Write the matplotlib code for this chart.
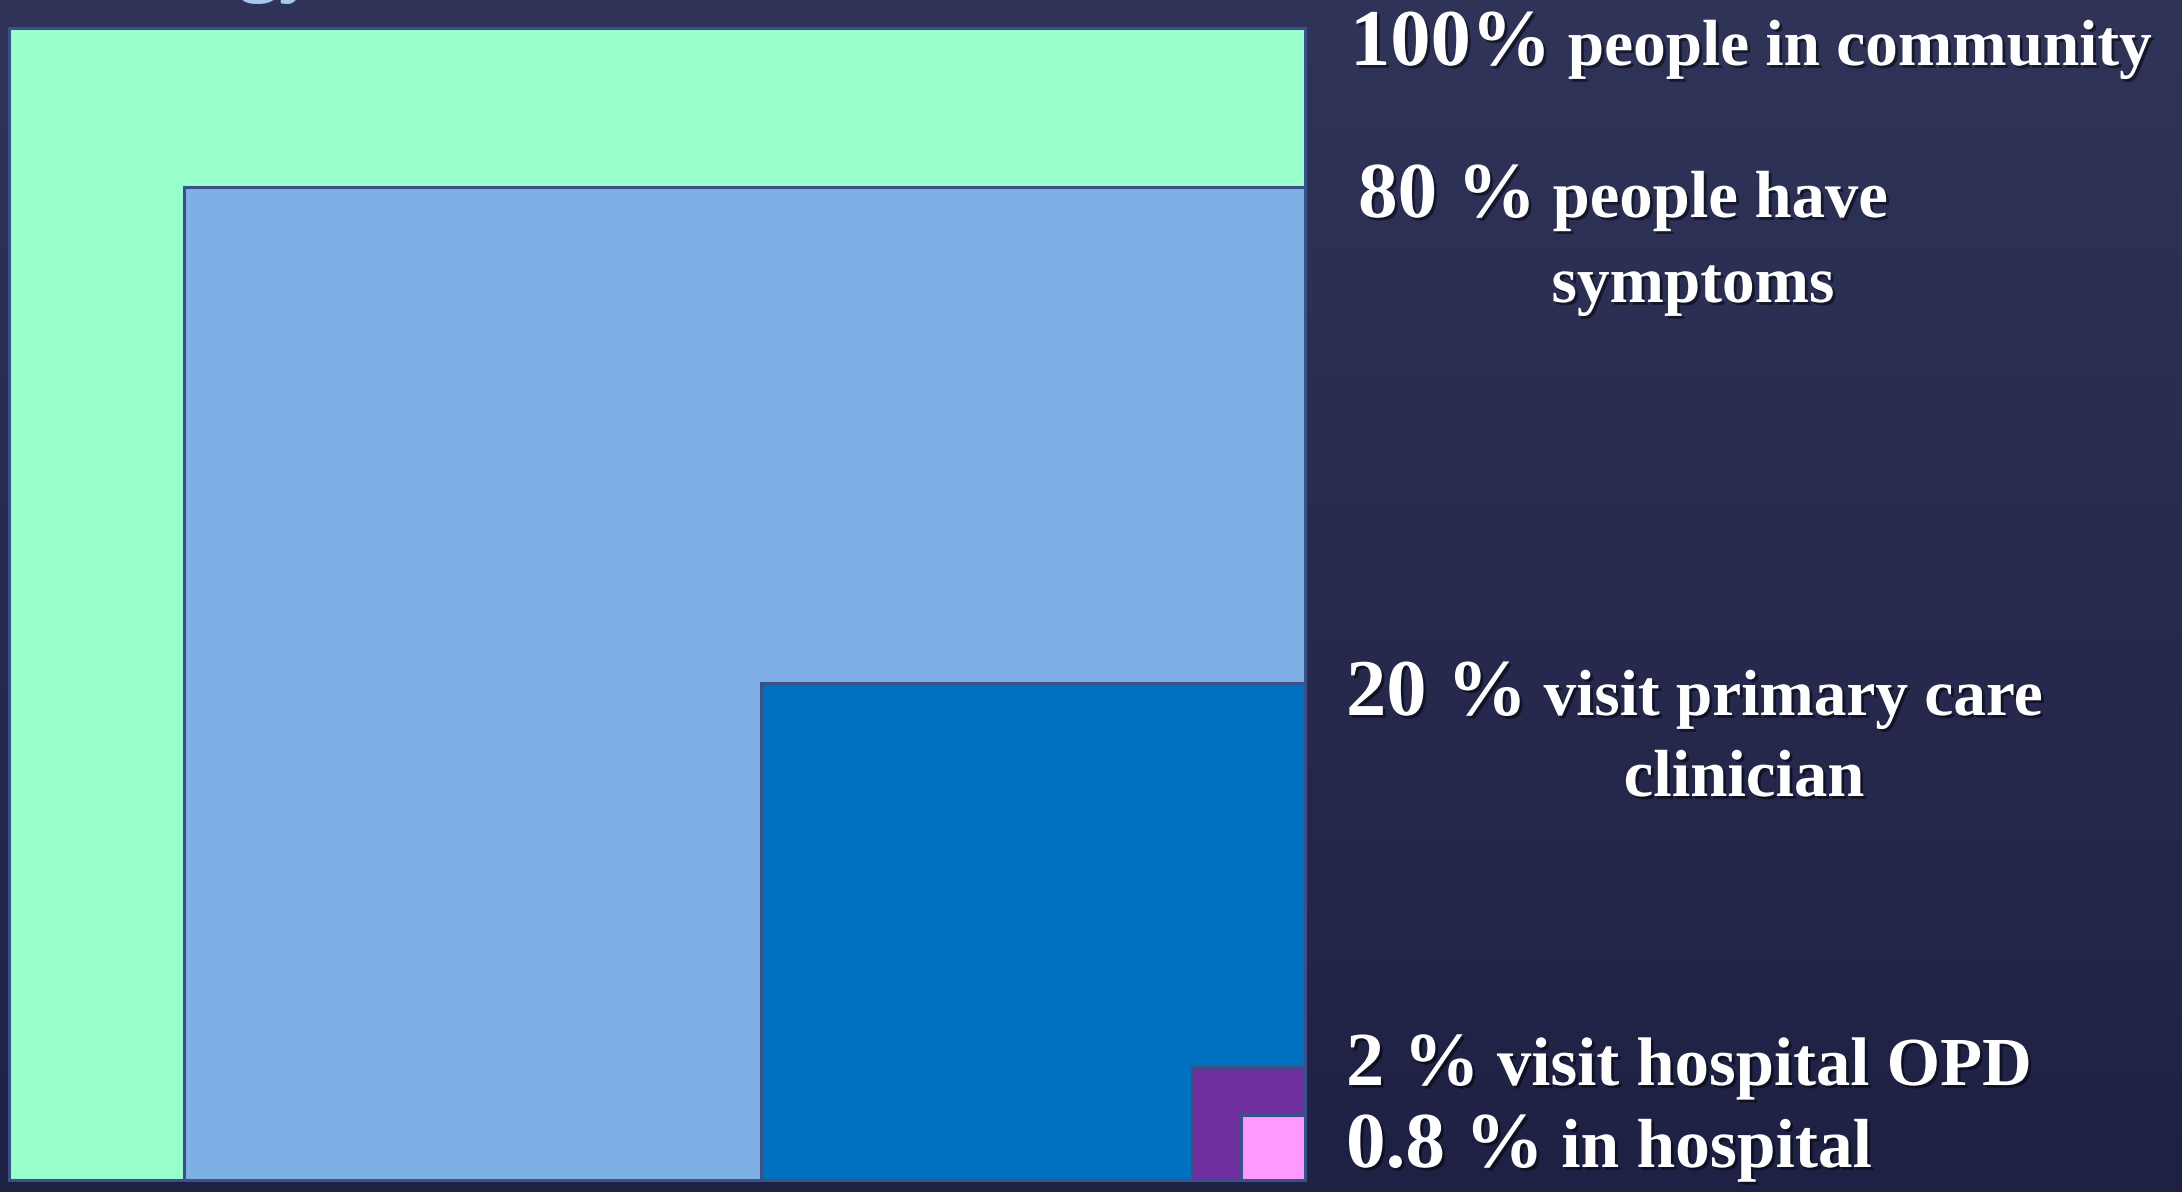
import numpy as np
import matplotlib.pyplot as plt
import matplotlib.patheffects as pe
from matplotlib.colors import LinearSegmentedColormap

# nested boxes, sizes as % of the outer box
pct = [100, 80, 20, 2, 0.8]
box_w = [100, 86.5, 42.0, 8.7, 4.9]
box_h = [100, 86.2, 43.1, 9.8, 5.6]
colors = ["#99ffcc", "#7fb0e5", "#0070c0", "#7030a0", "#ff99ff"]

# labels: big number part + smaller text part, optional 2nd line
big_parts = ["100%", "80 %", "20 %", "2 %", "0.8 %"]
small_parts = [" people in community", " people have", " visit primary care",
               " visit hospital OPD", " in hospital"]
second_lines = ["", "symptoms", "clinician", "", ""]

W, H = 2182, 1192
fig = plt.figure(figsize=(W / 100, H / 100), dpi=100)

# background gradient
bg = fig.add_axes([0, 0, 1, 1])
cmap = LinearSegmentedColormap.from_list("bg", ["#1f2144", "#303459"])
grad = np.linspace(0, 1, 256).reshape(-1, 1)
bg.imshow(grad, cmap=cmap, aspect="auto", origin="lower", extent=[0, 1, 0, 1])
bg.axis("off")

# boxes axes covers the outer box exactly
left, top, right, bottom = 9, 28, 1305, 1180
ax = fig.add_axes([left / W, 1 - bottom / H, (right - left) / W, (bottom - top) / H])
ax.set_xlim(0, 100)
ax.set_ylim(0, 100)
ax.axis("off")
for w, h, c in zip(box_w, box_h, colors):
    ax.bar(100 - w, h, width=w, bottom=0, align="edge", color=c,
           edgecolor="#3a5088", linewidth=2.2, clip_on=False)


def px(x, y):
    return x / W, 1 - y / H


shadow = [pe.withSimplePatchShadow(offset=(2, -2), shadow_rgbFace="black", alpha=0.5)]
font = dict(family="Liberation Serif", weight="bold", color="white", path_effects=shadow)

# top title fragment cut by the frame
fig.text(*px(238, -14), "gy", fontsize=60, color="#a8c6ee", family="Liberation Serif",
         weight="bold", va="baseline")

line_x = [1350, 1358, 1346, 1346, 1346]
line_y = [65, 217, 715, 1085, 1167]
big_size = [58, 57, 58, 55, 57]
small_size = [47, 48, 47, 49.5, 50]
second_size = [0, 47, 48, 0, 0]
second_xy = [None, (1693, 302), (1744, 796), None, None]

fig.canvas.draw()
r = fig.canvas.get_renderer()
for i in range(len(big_parts)):
    t = fig.text(*px(line_x[i], line_y[i]), big_parts[i], fontsize=big_size[i],
                 va="baseline", ha="left", **font)
    wpx = t.get_window_extent(r).width
    fig.text(*px(line_x[i] + wpx, line_y[i]), small_parts[i], fontsize=small_size[i],
             va="baseline", ha="left", **font)
    if second_lines[i]:
        fig.text(*px(*second_xy[i]), second_lines[i], fontsize=second_size[i],
                 va="baseline", ha="center", **font)

fig.savefig("out.png", dpi=100)
